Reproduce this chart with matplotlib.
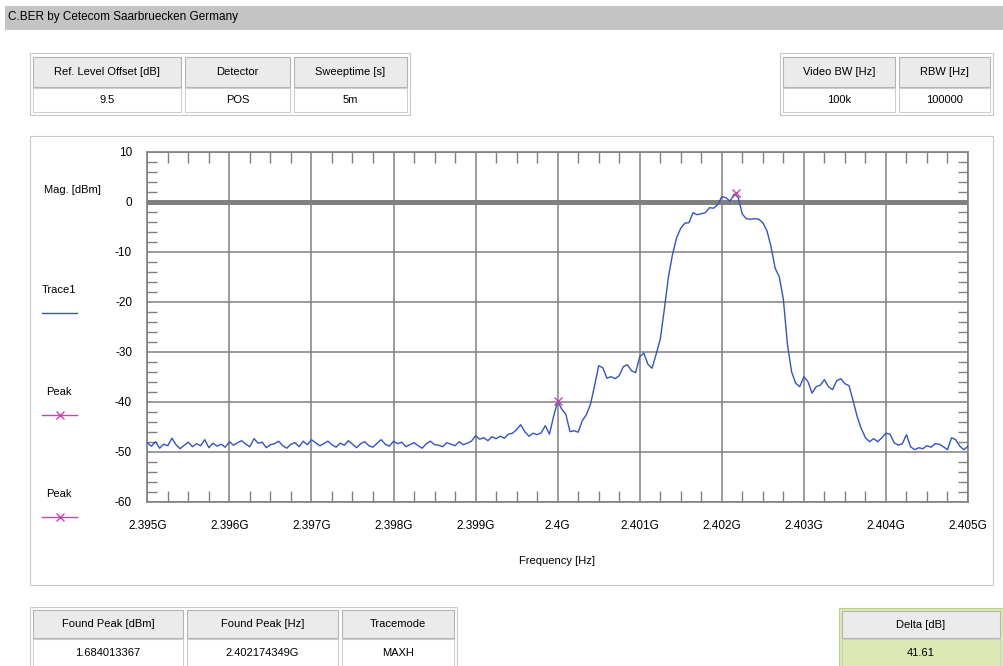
import numpy as np
import matplotlib
matplotlib.use("Agg")
import matplotlib.pyplot as plt
from matplotlib.patches import Rectangle
from matplotlib.lines import Line2D
from matplotlib.ticker import MultipleLocator, FuncFormatter

plt.rcParams['font.family'] = ['Liberation Sans', 'DejaVu Sans']
plt.rcParams['axes.unicode_minus'] = False

# sweep settings and trace (dBm)
f_start, f_stop, n_points = 2.395, 2.405, 201
trace1 = [
    -48.2, -48.9, -48.0, -49.3, -48.5, -48.8, -47.3, -48.6, -49.4, -48.7,
    -48.1, -49.0, -48.4, -48.8, -47.6, -49.2, -48.3, -48.9, -48.5, -49.1,
    -48.0, -48.7, -48.2, -47.8, -48.5, -49.0, -47.4, -48.3, -48.1, -49.2,
    -48.6, -48.4, -47.9, -48.8, -49.3, -48.5, -48.2, -49.0, -47.9, -48.6,
    -47.6, -48.2, -48.8, -48.4, -47.9, -48.6, -49.1, -48.3, -48.7, -47.8,
    -48.5, -49.2, -48.4, -48.0, -48.8, -49.1, -48.3, -47.6, -48.5, -48.9,
    -47.9, -48.4, -48.1, -49.0, -48.6, -48.2, -48.8, -49.3, -48.4, -47.9,
    -48.6, -48.7, -49.0, -48.2, -48.5, -48.8, -48.0, -48.6, -48.3, -47.9,
    -46.8, -47.5, -47.2, -47.8, -47.0, -47.4, -46.9, -47.3, -46.5, -46.3,
    -45.6, -44.6, -46.0, -46.9, -46.3, -46.6, -46.2, -44.8, -46.5, -43.0,
    -39.9, -41.5, -42.5, -46.0, -45.8, -46.1, -43.8, -42.6, -40.5, -36.8,
    -32.8, -33.2, -35.3, -35.0, -35.4, -34.8, -33.0, -32.6, -33.8, -34.2,
    -31.0, -30.3, -32.5, -33.3, -30.5, -27.5, -21.5, -15.0, -10.5, -7.2,
    -5.3, -4.3, -4.2, -2.2, -2.6, -2.4, -2.2, -1.2, -1.3, -0.6,
    1.0, 0.8, 0.1, 1.5, 0.9, -2.5, -3.4, -3.5, -3.4, -3.5,
    -4.2, -5.8, -9.0, -13.3, -15.0, -19.5, -28.5, -34.0, -36.3, -37.0,
    -35.0, -36.0, -38.3, -37.0, -36.7, -35.6, -37.0, -37.6, -35.8, -35.4,
    -36.4, -36.8, -39.8, -43.0, -45.4, -47.2, -48.0, -47.4, -48.0, -47.2,
    -46.3, -46.5, -48.2, -48.7, -48.4, -46.6, -49.0, -49.6, -49.2, -49.4,
    -48.8, -49.1, -48.4, -48.5, -49.0, -49.6, -47.2, -47.6, -48.9, -49.6,
    -48.9,
]
peak_freqs = [2.4021743490, 2.4000]
peak_levels = [1.684013367, -39.93]
x_ticks = [2.395, 2.396, 2.397, 2.398, 2.399, 2.400, 2.401, 2.402, 2.403, 2.404, 2.405]
x_tick_labels = ['2.395G', '2.396G', '2.397G', '2.398G', '2.399G', '2.4G',
                 '2.401G', '2.402G', '2.403G', '2.404G', '2.405G']

top_left_headers = ['Ref. Level Offset [dB]', 'Detector', 'Sweeptime [s]']
top_left_values = ['9.5', 'POS', '5m']
top_right_headers = ['Video BW [Hz]', 'RBW [Hz]']
top_right_values = ['100k', '100000']
bottom_headers = ['Found Peak [dBm]', 'Found Peak [Hz]', 'Tracemode']
bottom_values = ['1.684013367', '2.402174349G', 'MAXH']
delta_header = 'Delta [dB]'
delta_value = '41.61'

freq = np.linspace(f_start, f_stop, n_points)

W, H = 1004, 666
fig = plt.figure(figsize=(W / 100, H / 100), dpi=100)

def box(x0, y0, x1, y1, face, edge, lw=0.8, z=1):
    fig.add_artist(Rectangle((x0 / W, 1 - y1 / H), (x1 - x0) / W, (y1 - y0) / H,
                             transform=fig.transFigure, facecolor=face,
                             edgecolor=edge, lw=lw, zorder=z))

def label(x, y, s, fs=8, ha='center'):
    fig.text(x / W, 1 - y / H, s, ha=ha, va='center', fontsize=fs)

def table(cols, y_head, y_val, headers, values, outer, val_face='white',
          outer_face='white', outer_edge='#c8c8c8'):
    box(*outer, outer_face, outer_edge)
    for (x0, x1), h, v in zip(cols, headers, values):
        box(x0, y_head[0], x1, y_head[1], '#ebebeb', '#b4b4b4')
        box(x0, y_val[0], x1, y_val[1], val_face, '#cdcdcd')
        label((x0 + x1) / 2, sum(y_head) / 2, h)
        label((x0 + x1) / 2, sum(y_val) / 2, v)

# title bar
box(5, 6, 1004, 30, '#c4c4c4', '#c4c4c4', lw=0)
label(8, 17, 'C.BER by Cetecom Saarbruecken Germany', fs=8.5, ha='left')

table([(33, 181), (185, 290), (294, 407)], (57, 87), (88, 112),
      top_left_headers, top_left_values, (30, 53, 410, 115))
table([(783, 895), (899, 990)], (57, 87), (88, 112),
      top_right_headers, top_right_values, (780, 53, 993, 115))
table([(33, 183), (187, 338), (342, 454)], (610, 638), (639, 668),
      bottom_headers, bottom_values, (30, 607, 457, 670))
table([(842, 1000)], (611, 638), (639, 668), [delta_header], [delta_value],
      (839, 608, 1003, 670), val_face='#dde9b5', outer_face='#dde9b5',
      outer_edge='#b8d08a')

# chart panel
box(30, 136, 993, 585, 'white', '#c8c8c8', z=-1)

ax = fig.add_axes([147.3 / W, 1 - 501.7 / H, 820.7 / W, 350 / H])
grid_c = '#808080'
ax.plot(freq, trace1, color='#3355bb', lw=1.0, zorder=3)
ax.plot(peak_freqs, peak_levels, ls='none', marker='x', ms=6, mew=1.0,
        color='#cc44aa', zorder=4)
ax.axhline(0, color=grid_c, lw=3.6, zorder=2)

ax.set_xlim(f_start, f_stop)
ax.set_ylim(-60, 10)
ax.set_xticks(x_ticks)
ax.set_xticklabels(x_tick_labels)
ax.xaxis.set_minor_locator(MultipleLocator(0.00025))
ax.yaxis.set_major_locator(MultipleLocator(10))
ax.yaxis.set_minor_locator(MultipleLocator(2))
ax.yaxis.set_major_formatter(FuncFormatter(lambda v, p: '%d' % v))
ax.grid(True, which='major', color=grid_c, lw=1.1, zorder=1)
ax.tick_params(which='both', direction='in', top=True, right=True,
               color=grid_c, labelsize=8.5)
ax.tick_params(which='major', length=0)
ax.tick_params(axis='x', which='minor', length=8, width=1)
ax.tick_params(axis='y', which='minor', length=7, width=1)
ax.tick_params(axis='x', which='major', pad=13)
ax.tick_params(axis='y', which='major', pad=11)
for s in ax.spines.values():
    s.set_color(grid_c)
    s.set_linewidth(1.2)

label(557, 561, 'Frequency [Hz]')

# legend column on the left
label(72, 190, 'Mag. [dBm]')
label(59, 290, 'Trace1')
fig.add_artist(Line2D([42 / W, 77 / W], [1 - 312.5 / H] * 2, color='#3355bb', lw=1.0))
for y_txt, y_line in [(392, 415), (494, 517)]:
    label(59, y_txt, 'Peak')
    fig.add_artist(Line2D([42 / W, 77 / W], [1 - y_line / H] * 2, color='#cc44aa', lw=1.0))
    fig.add_artist(Line2D([60 / W], [1 - y_line / H], color='#cc44aa', marker='x',
                          ms=6, mew=1.0, ls='none'))

fig.savefig('out.png', dpi=100)
